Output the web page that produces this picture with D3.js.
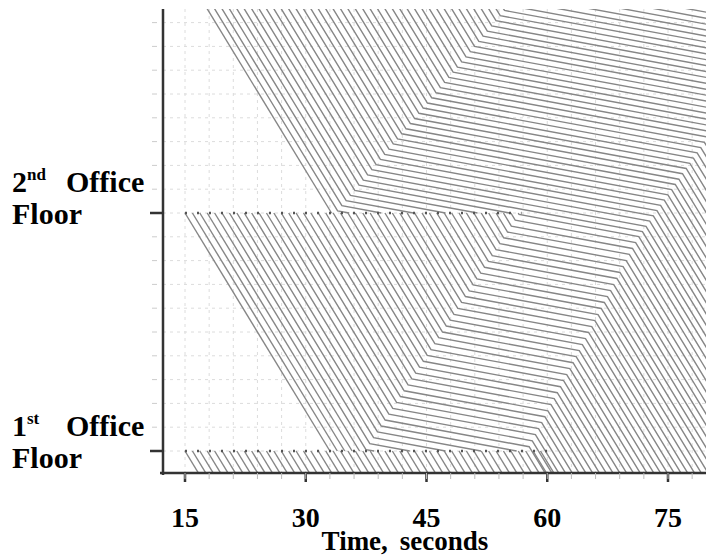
<!DOCTYPE html>
<html><head><meta charset="utf-8">
<script src="https://cdn.jsdelivr.net/npm/d3@7"></script>
<style>body{margin:0;background:#fff} svg{display:block}</style>
</head><body><svg id="c" width="706" height="556"></svg>
<script>
// time (s) on x, level in storeys above the 1st office floor on y
const xTicks=[15,30,45,60,75];
const floorLevels=[1,0];
const floorNames=["2","1"], floorSup=["nd","st"];

// trajectories of occupants coming down from the floor above the 2nd office floor: [time, level]
const upperPaths=[
[[15.2,2],[33.2,1]],
[[16.12,2],[33.96,1.009],[35.40,1]],
[[17.04,2],[34.49,1.031],[39.38,1]],
[[17.96,2],[35.02,1.052],[43.37,1]],
[[18.88,2],[35.55,1.074],[47.35,1]],
[[19.80,2],[36.09,1.095],[51.34,1]],
[[20.72,2],[36.62,1.117],[55.32,1]],
[[21.64,2],[37.15,1.138],[71.82,0.922],[92.01,-0.2]],
[[22.56,2],[37.68,1.160],[72.27,0.944],[92.86,-0.2]],
[[23.48,2],[38.21,1.182],[72.73,0.966],[93.71,-0.2]],
[[24.40,2],[38.74,1.203],[73.18,0.988],[94.56,-0.2]],
[[25.32,2],[39.27,1.225],[73.63,1.010],[95.41,-0.2]],
[[26.24,2],[39.81,1.246],[74.08,1.032],[96.26,-0.2]],
[[27.16,2],[40.34,1.268],[74.54,1.054],[97.11,-0.2]],
[[28.08,2],[40.87,1.290],[74.99,1.076],[97.96,-0.2]],
[[29.00,2],[41.40,1.311],[75.45,1.098],[98.82,-0.2]],
[[29.92,2],[41.93,1.333],[75.90,1.120],[99.67,-0.2]],
[[30.84,2],[42.46,1.354],[76.35,1.142],[100.52,-0.2]],
[[31.76,2],[43.00,1.376],[76.80,1.165],[101.37,-0.2]],
[[32.68,2],[43.53,1.397],[77.26,1.187],[102.22,-0.2]],
[[33.60,2],[44.06,1.419],[77.71,1.209],[103.07,-0.2]],
[[34.52,2],[44.59,1.441],[78.16,1.231],[103.92,-0.2]],
[[35.44,2],[45.12,1.462],[78.62,1.253],[104.77,-0.2]],
[[36.36,2],[45.65,1.484],[79.07,1.275],[105.62,-0.2]],
[[37.28,2],[46.19,1.505],[79.52,1.297],[106.47,-0.2]],
[[38.20,2],[46.72,1.527],[79.98,1.319]],
[[39.12,2],[47.25,1.549],[80.43,1.341]],
[[40.04,2],[47.78,1.570],[80.88,1.363]],
[[40.96,2],[48.31,1.592],[81.34,1.385]],
[[41.88,2],[48.84,1.613],[81.79,1.407]],
[[42.80,2],[49.37,1.635],[82.24,1.429]],
[[43.72,2],[49.91,1.656],[82.70,1.452]],
[[44.64,2],[50.44,1.678],[83.15,1.474]],
[[45.56,2],[50.97,1.700],[83.60,1.496]],
[[46.48,2],[51.50,1.721],[84.06,1.518]],
[[47.40,2],[52.03,1.743],[84.51,1.540]],
[[48.32,2],[52.56,1.764],[84.96,1.562]],
[[49.24,2],[53.10,1.786],[85.42,1.584]],
[[50.16,2],[53.63,1.808],[85.87,1.606]],
[[51.08,2],[54.16,1.829],[86.32,1.628]],
[[52.00,2],[54.69,1.851],[86.78,1.650]],
[[55.22,1.872],[87.23,1.672]],
[[55.75,1.894],[87.68,1.694]],
[[56.29,1.915],[88.13,1.716]],
[[56.82,1.937],[88.59,1.738]],
[[57.35,1.959],[89.04,1.760]],
[[57.88,1.980],[89.50,1.783]],
[[58.41,2.002],[89.95,1.805]]
];

// trajectories of occupants starting on the 2nd office floor: [time, level]
const secondFloorPaths=[
[[15.00,1],[33.00,0]],
[[15.92,1],[33.92,0]],
[[16.84,1],[34.84,0]],
[[17.76,1],[35.76,0]],
[[18.68,1],[36.68,0]],
[[19.60,1],[37.48,0.006],[38.49,0]],
[[20.52,1],[37.96,0.031],[42.92,0]],
[[21.44,1],[38.43,0.056],[47.35,0]],
[[22.36,1],[38.91,0.080],[51.77,0]],
[[23.28,1],[39.38,0.105],[56.20,0]],
[[24.20,1],[39.86,0.130],[57.75,0.018],[61.67,-0.2]],
[[25.12,1],[40.33,0.155],[58.14,0.043],[62.51,-0.2]],
[[26.04,1],[40.81,0.179],[58.53,0.069],[63.36,-0.2]],
[[26.96,1],[41.28,0.204],[58.92,0.094],[64.20,-0.2]],
[[27.88,1],[41.76,0.229],[59.31,0.119],[65.04,-0.2]],
[[28.80,1],[42.23,0.253],[59.70,0.144],[65.89,-0.2]],
[[29.72,1],[42.71,0.278],[60.08,0.169],[66.73,-0.2]],
[[30.64,1],[43.18,0.303],[60.47,0.195],[67.57,-0.2]],
[[31.56,1],[43.66,0.327],[60.86,0.220],[68.42,-0.2]],
[[32.48,1],[44.13,0.352],[61.25,0.245],[69.26,-0.2]],
[[33.40,1],[44.61,0.377],[61.64,0.270],[70.10,-0.2]],
[[34.32,1],[45.09,0.402],[62.03,0.296],[70.95,-0.2]],
[[35.24,1],[45.56,0.426],[62.42,0.321],[71.79,-0.2]],
[[36.16,1],[46.04,0.451],[62.81,0.346],[72.64,-0.2]],
[[37.08,1],[46.51,0.476],[63.20,0.371],[73.48,-0.2]],
[[38.00,1],[46.99,0.500],[63.59,0.397],[74.32,-0.2]],
[[38.92,1],[47.46,0.525],[63.98,0.422],[75.17,-0.2]],
[[39.84,1],[47.94,0.550],[64.36,0.447],[76.01,-0.2]],
[[40.76,1],[48.41,0.574],[64.75,0.472],[76.85,-0.2]],
[[41.68,1],[48.89,0.599],[65.14,0.498],[77.70,-0.2]],
[[42.60,1],[49.36,0.624],[65.53,0.523],[78.54,-0.2]],
[[43.52,1],[49.84,0.649],[65.92,0.548],[79.38,-0.2]],
[[44.44,1],[50.31,0.673],[66.31,0.573],[80.23,-0.2]],
[[45.36,1],[50.79,0.698],[66.70,0.599],[81.07,-0.2]],
[[46.28,1],[51.26,0.723],[67.09,0.624],[81.91,-0.2]],
[[47.20,1],[51.74,0.747],[67.48,0.649],[82.76,-0.2]],
[[48.12,1],[52.21,0.772],[67.87,0.674],[83.60,-0.2]],
[[49.04,1],[52.69,0.797],[68.26,0.699],[84.44,-0.2]],
[[49.96,1],[53.17,0.821],[68.65,0.725],[85.29,-0.2]],
[[50.88,1],[53.64,0.846],[69.03,0.750],[86.13,-0.2]],
[[51.80,1],[54.12,0.871],[69.42,0.775],[86.97,-0.2]],
[[52.72,1],[54.59,0.896],[69.81,0.800],[87.82,-0.2]],
[[53.64,1],[55.07,0.920],[70.20,0.826],[88.66,-0.2]],
[[54.56,1],[55.54,0.945],[70.59,0.851],[89.50,-0.2]],
[[55.48,1],[56.02,0.970],[70.98,0.876],[90.35,-0.2]],
[[56.40,1],[56.49,0.994],[71.37,0.901],[91.19,-0.2]]
];

// occupants of the 1st office floor: time leaving the floor level and time passing level -0.1
const firstFloorStart=[15.00,15.92,16.84,17.76,18.68,19.60,20.52,21.44,22.36,23.28,24.20,25.12,26.04,26.96,27.88,28.80,29.72,30.64,31.56,32.48,33.40,34.32,35.24,36.16,37.08,38.00,38.92,39.84,40.76,41.68,42.60,43.52,44.44,45.36,46.28,47.20,48.12,49.04,49.96,50.88,51.80,52.72,53.64,54.56,55.48,56.40,57.32,58.24,59.16];
const firstFloorEnd=[16.80,17.72,18.64,19.56,20.48,21.40,22.32,23.24,24.16,25.08,26.00,26.92,27.84,28.76,29.68,30.60,31.52,32.44,33.36,34.28,35.20,36.12,37.04,37.96,38.88,39.80,40.72,41.64,42.56,43.48,44.40,45.32,46.24,47.16,48.08,49.00,49.92,50.84,51.76,52.68,53.60,54.52,55.44,56.36,57.28,58.20,59.12,60.04,60.96];
// extent of the dotted floor markings [start, end] in seconds
const floorMarkStart=[15,15], floorMarkEnd=[56.8,61];

const x = d3.scaleLinear().domain([15,75]).range([185,668]);
const y = d3.scaleLinear().domain([0,1]).range([451,213]);
const svg=d3.select("#c");
const plot={l:163,r:706,t:9,b:473};
const firstFloorPaths=firstFloorStart.map((s,i)=>[[s,0],[firstFloorEnd[i],-0.1]]);
const trajs=[...upperPaths,...secondFloorPaths,...firstFloorPaths];

svg.append("clipPath").attr("id","cp").append("rect").attr("x",plot.l).attr("y",plot.t).attr("width",plot.r-plot.l).attr("height",plot.b-plot.t);
const g=svg.append("g").attr("clip-path","url(#cp)");
const gridT=d3.range(15,81,3), gridL=d3.range(0,1.85,0.1);
g.selectAll(".gv").data(gridT).join("line").attr("x1",d=>x(d)).attr("x2",d=>x(d)).attr("y1",plot.t).attr("y2",plot.b).attr("stroke","#dcdcdc").attr("stroke-dasharray","3,4");
g.selectAll(".gh").data(gridL).join("line").attr("y1",d=>y(d)).attr("y2",d=>y(d)).attr("x1",plot.l).attr("x2",plot.r).attr("stroke","#dcdcdc").attr("stroke-dasharray","3,4");
const line=d3.line().x(d=>x(d[0])).y(d=>y(d[1]));
g.selectAll(".tr").data(trajs).join("path").attr("d",line).attr("fill","none").attr("stroke","#868686").attr("stroke-width",1.4);
g.selectAll(".fm").data(floorLevels).join("line").attr("x1",(d,i)=>x(floorMarkStart[i])).attr("x2",(d,i)=>x(floorMarkEnd[i])).attr("y1",d=>y(d)).attr("y2",d=>y(d)).attr("stroke","#555").attr("stroke-width",2.5).attr("stroke-dasharray","2,10");
svg.append("line").attr("x1",plot.l).attr("x2",plot.l).attr("y1",plot.t).attr("y2",plot.b+2).attr("stroke","#333").attr("stroke-width",2.5);
svg.append("line").attr("x1",plot.l-3).attr("x2",plot.r).attr("y1",plot.b).attr("y2",plot.b).attr("stroke","#333").attr("stroke-width",2.5);
svg.selectAll(".xt").data(xTicks).join("line").attr("x1",d=>x(d)).attr("x2",d=>x(d)).attr("y1",plot.b).attr("y2",plot.b+9).attr("stroke","#333").attr("stroke-width",2.5);
svg.selectAll(".xm").data(d3.range(15,79,3)).join("line").attr("x1",d=>x(d)).attr("x2",d=>x(d)).attr("y1",plot.b).attr("y2",plot.b+6).attr("stroke","#bbb").attr("stroke-width",1);
svg.selectAll(".ym").data(gridL).join("line").attr("y1",d=>y(d)).attr("y2",d=>y(d)).attr("x1",plot.l-11).attr("x2",plot.l-6).attr("stroke","#ccc").attr("stroke-width",1);
svg.selectAll(".yt").data(floorLevels).join("line").attr("y1",d=>y(d)).attr("y2",d=>y(d)).attr("x1",plot.l-13).attr("x2",plot.l).attr("stroke","#333").attr("stroke-width",2.5);
svg.selectAll(".xl").data(xTicks).join("text").attr("x",d=>x(d)).attr("y",527).attr("text-anchor","middle").attr("font-family","Liberation Serif").attr("font-weight","bold").attr("font-size",28).text(d=>d);
const xt=svg.append("text").attr("x",405).attr("y",550).attr("text-anchor","middle").attr("font-family","Liberation Serif").attr("font-weight","bold").attr("font-size",27);
xt.append("tspan").text("Time,");xt.append("tspan").attr("dx",12).text("seconds");
const labOff=[[-21,11],[-15,17]];
floorLevels.forEach((lvl,i)=>{
  const t=svg.append("text").attr("x",12).attr("y",y(lvl)+labOff[i][0]).attr("font-family","Liberation Serif").attr("font-weight","bold").attr("font-size",30);
  t.append("tspan").text(floorNames[i]);
  t.append("tspan").attr("font-size",17).attr("dy",-12).text(floorSup[i]);
  t.append("tspan").attr("x",66).attr("dy",12).text("Office");
  svg.append("text").attr("x",12).attr("y",y(lvl)+labOff[i][1]).attr("font-family","Liberation Serif").attr("font-weight","bold").attr("font-size",30).text("Floor");
});
</script></body></html>
